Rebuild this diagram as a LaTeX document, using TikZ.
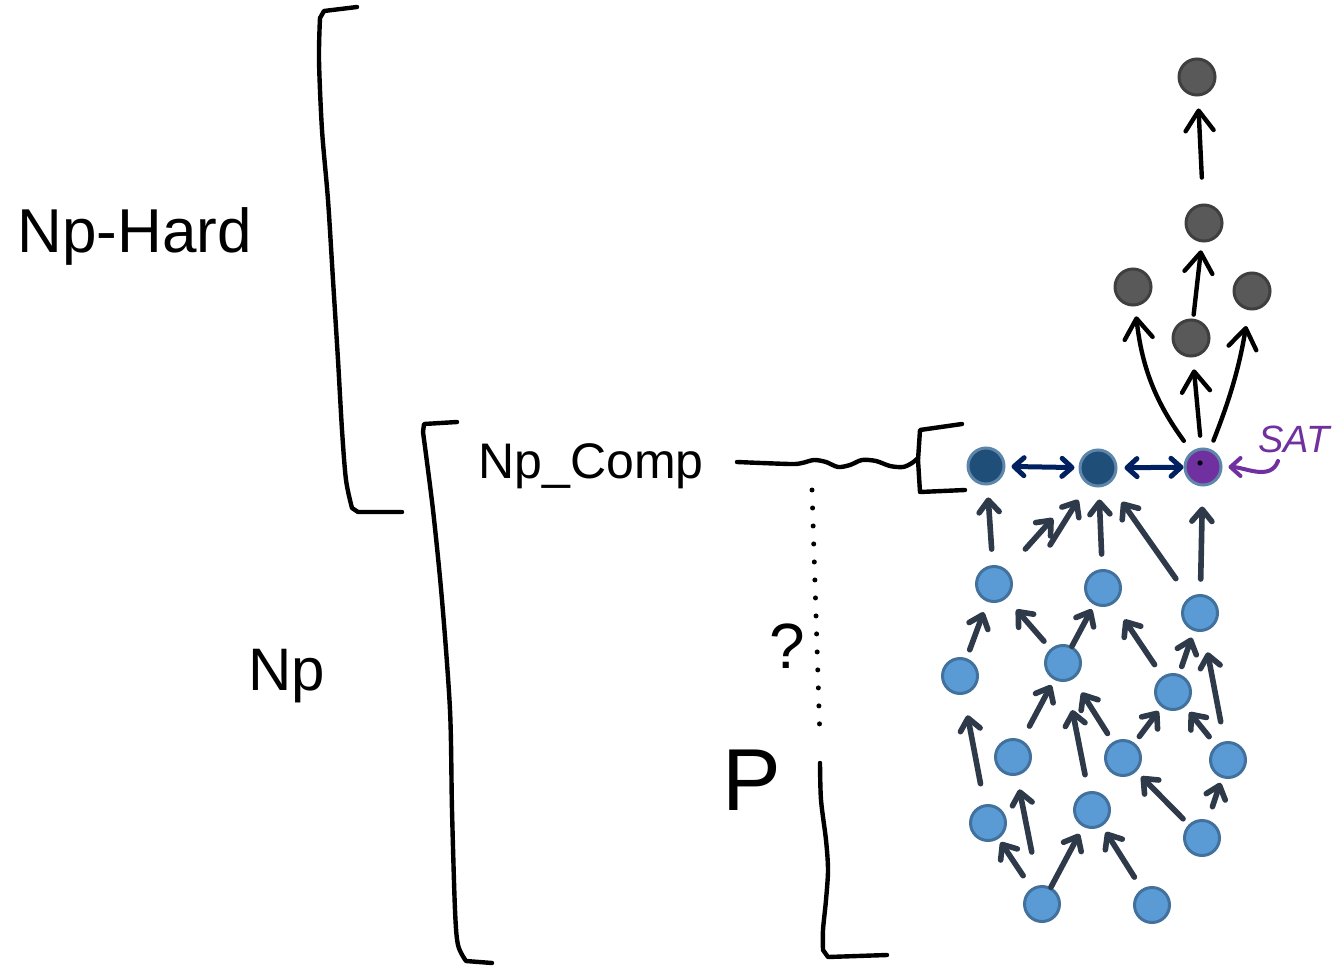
\documentclass[tikz,border=0pt]{standalone}
\usepackage{fontspec}
\setmainfont{Liberation Sans}
\usetikzlibrary{arrows.meta}

\definecolor{leafblue}{HTML}{5B9BD5}
\definecolor{leafedge}{HTML}{41719C}
\definecolor{compblue}{HTML}{1F4E79}
\definecolor{satpurple}{HTML}{7030A0}
\definecolor{hardgray}{HTML}{595959}
\definecolor{hardedge}{HTML}{3F3F3F}
\definecolor{slate}{HTML}{2E3A4A}
\definecolor{navy}{HTML}{002060}

\begin{document}
\begin{tikzpicture}[x=0.5pt, y=-0.5pt,
    pen/.style={line width=2.2pt, line cap=round, line join=round},
    leaf/.style={circle, draw=leafedge, fill=leafblue, line width=1.5pt, minimum size=17.5pt, inner sep=0pt},
    comp/.style={leaf, fill=compblue, draw=leafedge!85!white, minimum size=18pt},
    hardnode/.style={leaf, fill=hardgray, draw=hardedge, minimum size=18pt},
    reduce/.style={slate, line width=2.8pt, line cap=round, -{Straight Barb[round, length=6pt, width=10pt]}},
    reducehard/.style={black, line width=2.2pt, line cap=round, -{Straight Barb[round, length=10pt, width=14pt]}},
    equiv/.style={navy, line width=2.5pt, line cap=round, {Straight Barb[round, length=5pt, width=9pt]}-{Straight Barb[round, length=5pt, width=9pt]}},
    hand/.style={inner sep=0pt, anchor=base west}
]

\useasboundingbox (0,0) rectangle (1332,968);

% Labels
\node[hand, font=\fontsize{31}{33}\selectfont] (hardlbl) at (17,252) {Np-Hard};
\node[hand, font=\fontsize{30}{32}\selectfont] (nplbl) at (248,690) {Np};
\node[hand, font=\fontsize{25}{27}\selectfont] (complbl) at (478,478) {Np\_Comp};
\node[hand, font=\fontsize{44}{46}\selectfont] (plbl) at (722,810) {P};
\node[inner sep=0pt, anchor=base, font=\fontsize{32}{34}\selectfont] (qlbl) at (787,668) {?};
\node[hand, font=\itshape\fontsize{19}{21}\selectfont, text=satpurple] (satlbl) at (1258,452) {SAT};

% Brackets
\draw[pen] (357,7) -- (324,11) -- plot[smooth] coordinates {(320,18) (319,60) (322,130) (328,200) (333,280) (338,360) (342,430) (346,480) (352,508)} -- (358,512) -- (402,512);
\draw[pen] (457,422) -- (424,424) -- plot[smooth] coordinates {(423,432) (433,510) (442,600) (450,710) (452,810) (455,910) (458,945) (466,961)} -- (492,963);
\draw[pen] plot[smooth] coordinates {(820,763) (821,800) (826,840) (828,870) (826,900) (823,930) (823,950)} -- (828,957) -- (887,955);
\draw[pen] (962,424) -- (920,430) -- (918,460) -- (920,492) -- (965,490);

% Wavy line and dotted line
\draw[pen] plot[smooth] coordinates {(737,462) (790,464) (802,463) (814,460) (826,462) (838,467) (850,465) (862,460) (876,461) (890,466) (903,467) (912,463) (918,458)};
\draw[line width=2.5pt, line cap=round, dash pattern=on 0pt off 9pt] (812,490) -- (820,740);

% NP-complete row
\node[comp] (c1) at (986,466) {};
\node[comp] (c2) at (1098,468) {};
\node[comp, fill=satpurple] (sat) at (1203,467) {};
\fill (1200,463) circle (1.3pt);

% NP-hard nodes
\foreach \n/\x/\y in {h1/1197/77, h2/1204/223, h3/1133/287, h4/1191/338, h5/1252/291}
    \node[hardnode] (\n) at (\x,\y) {};

% NP nodes
\foreach \n/\x/\y in {b1/994/584, b2/1103/588, b3/1200/613,
                      b4/960/676, b5/1063/663, b6/1173/692,
                      b7/1013/757, b8/1123/758, b9/1228/760,
                      b10/988/823, b11/1092/810, b12/1202/838,
                      b13/1042/904, b14/1152/905}
    \node[leaf] (\n) at (\x,\y) {};

% Reductions
\coordinate (t1) at (1050,545);
\foreach \s/\t/\a/\b in {b1/c1/8pt/6pt, b1/c2/14pt/24pt, t1/c2/0pt/9pt,
        b2/c2/7.5pt/6pt, b3/c2/11.5pt/11pt, b3/sat/7.5pt/10pt,
        b4/b1/4.5pt/5.5pt, b5/b1/5pt/7.5pt, b5/b2/0pt/2.5pt,
        b6/b2/7pt/9.5pt, b6/b3/4pt/3.5pt, b9/b3/10pt/10.5pt,
        b7/b5/8pt/3pt, b11/b5/8.5pt/14.5pt, b8/b5/5pt/8pt,
        b8/b6/4pt/2.5pt, b9/b6/5.5pt/3.5pt, b10/b4/10.5pt/10.5pt,
        b13/b7/17pt/7pt, b13/b10/7.5pt/2pt, b13/b11/0pt/4pt,
        b14/b11/7pt/3.5pt, b12/b8/4pt/3.5pt, b12/b9/7pt/2.5pt}
    \draw[reduce, shorten <=\a, shorten >=\b] (\s) -- (\t);

\draw[reducehard, shorten <=13pt, shorten >=6pt] (h2) -- (h1);
\draw[reducehard, shorten <=2pt, shorten >=4pt] (h4) -- (h2);
\draw[reducehard, shorten <=6.5pt, shorten >=5pt] (sat) to[bend left=15] (h3);
\draw[reducehard, shorten <=6pt, shorten >=6pt] (sat) -- (h4);
\draw[reducehard, shorten <=4.5pt, shorten >=8pt] (sat) to[bend right=6] (h5);

\draw[equiv, shorten <=3pt, shorten >=2pt] (c1) -- (c2);
\draw[equiv, shorten <=3.5pt, shorten >=0pt] (c2) -- (sat);

% SAT pointer
\coordinate (sattail) at (1278,461);
\draw[satpurple, line width=2pt, line cap=round, -{Straight Barb[round, length=5pt, width=9pt]}, shorten >=3pt] (sattail) to[out=-110, in=0] (sat);

\end{tikzpicture}
\end{document}
